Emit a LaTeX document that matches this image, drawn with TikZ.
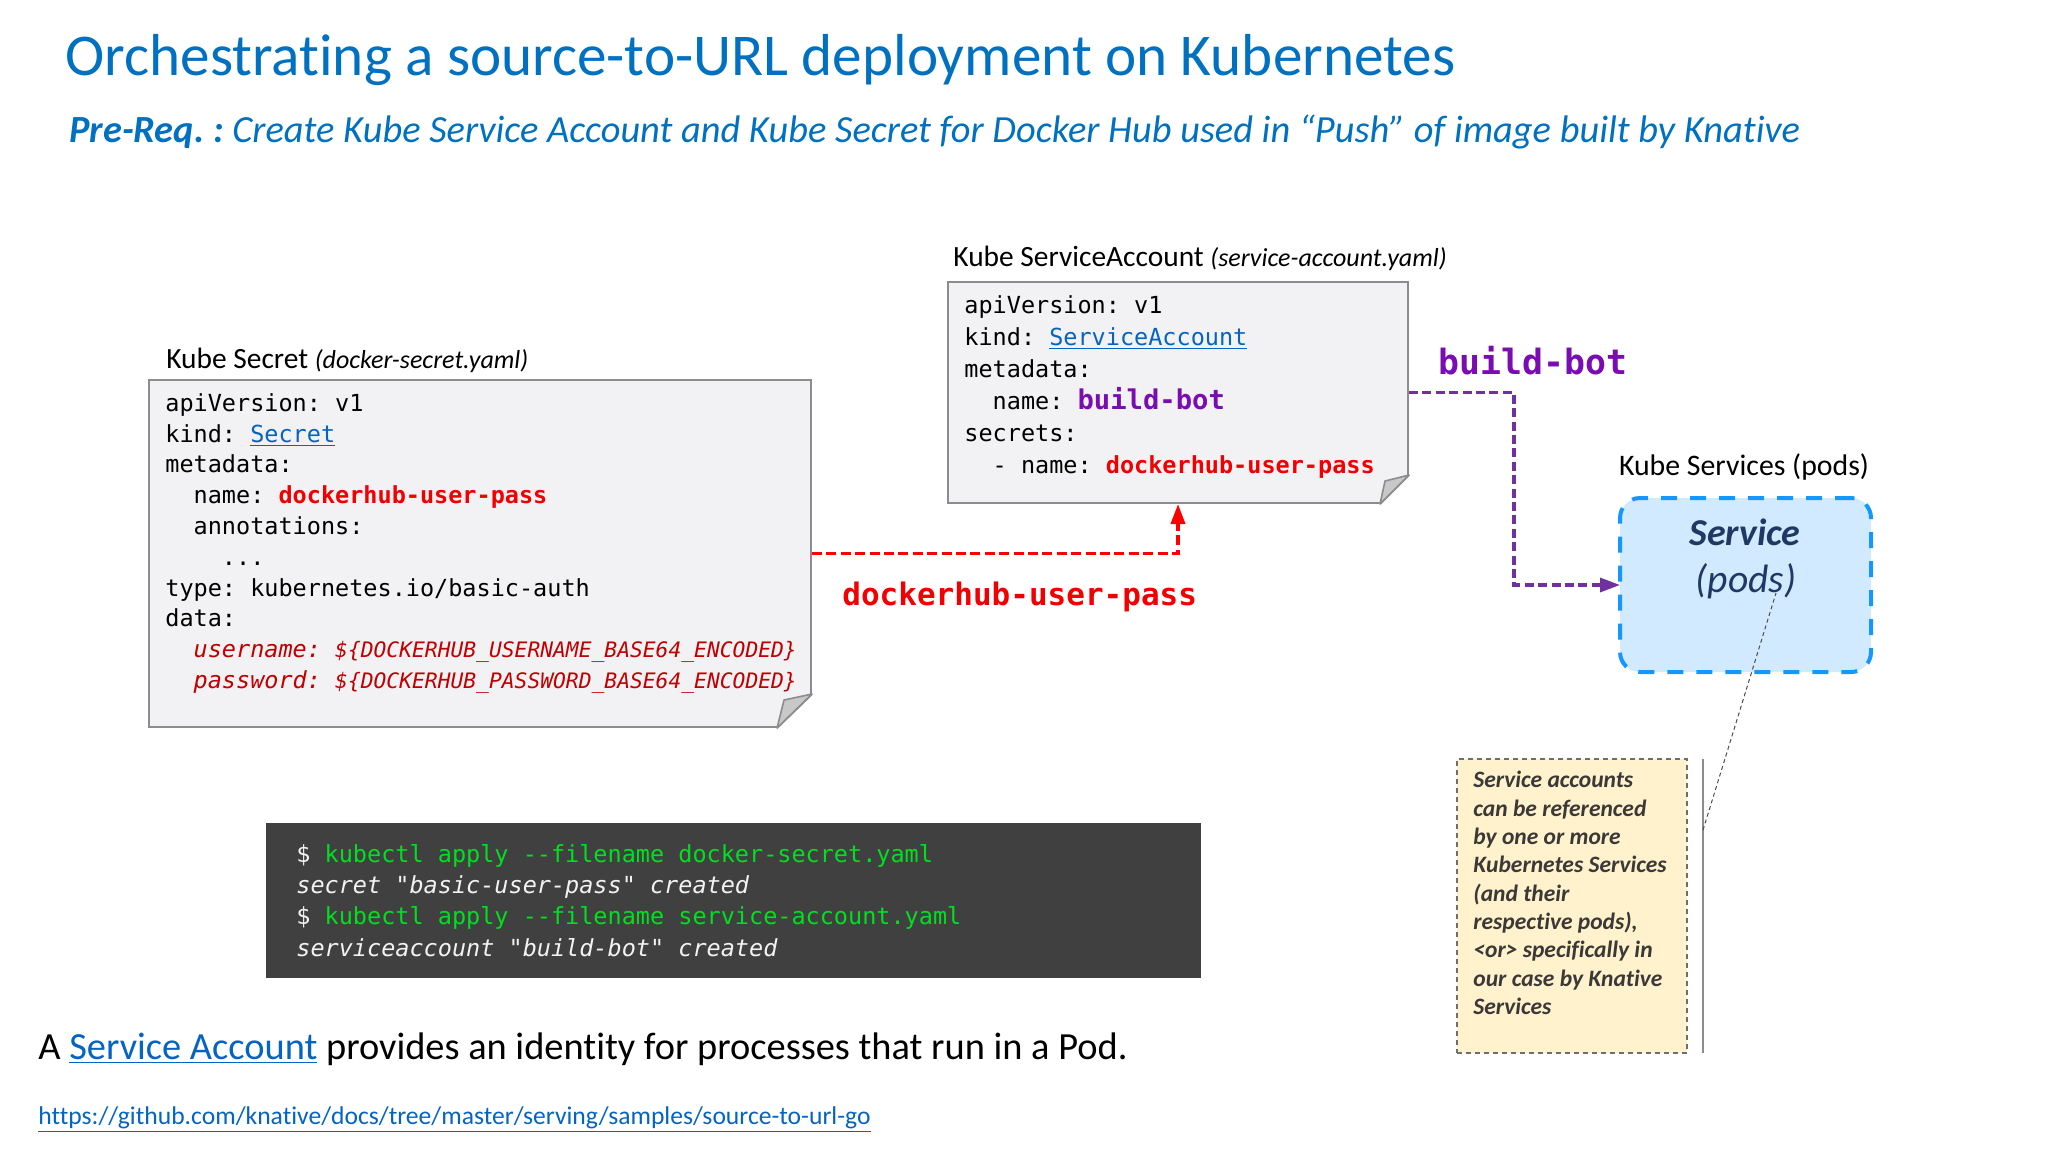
\documentclass[tikz,border=0pt]{standalone}
\usepackage{fontspec}
\setmainfont[Ligatures=NoCommon]{Carlito}
\newfontfamily\codefont{DejaVu Sans Mono}
\usetikzlibrary{arrows.meta,calc}
\definecolor{titleblue}{HTML}{0070C0}
\definecolor{linkblue}{HTML}{0563C1}
\definecolor{docfill}{HTML}{F2F2F4}
\definecolor{docedge}{HTML}{8C8C8C}
\definecolor{foldfill}{HTML}{C8C8C8}
\definecolor{redkey}{HTML}{F00000}
\definecolor{reditalic}{HTML}{C00000}
\definecolor{purpkey}{HTML}{7A0DB0}
\definecolor{purpline}{HTML}{7030A0}
\definecolor{svcfill}{HTML}{D2EAFF}
\definecolor{svcedge}{HTML}{1498FF}
\definecolor{svctext}{HTML}{1F3864}
\definecolor{notefill}{HTML}{FFF2CC}
\definecolor{notetext}{HTML}{3B3838}
\definecolor{noteedge}{HTML}{6E6E6E}
\definecolor{termfill}{HTML}{404040}
\definecolor{termgreen}{HTML}{00E020}
\newcommand{\lnk}[1]{\textcolor{linkblue}{\underline{#1}}}
\newcommand{\rk}[1]{\textcolor{redkey}{\bfseries #1}}
\newcommand{\pk}[1]{\textcolor{purpkey}{\bfseries\fontsize{13.6}{16}\selectfont #1}}
\newcommand{\gk}[1]{\textcolor{termgreen}{#1}}
\newcommand{\envv}[1]{{\fontsize{10.65}{15.4}\selectfont #1}}
\tikzset{
  docbox/.style={draw=docedge,fill=docfill,line width=1pt,inner sep=0pt,rectangle},
  foldpart/.style={draw=docedge,fill=foldfill,line width=0.8pt,line join=round},
  codetext/.style={inner sep=0pt,anchor=north west,align=left,text=black},
  txt/.style={inner sep=0pt,text=black},
  redflow/.style={draw=red,line width=1.8pt,dash pattern=on 5pt off 2.2pt,-{Triangle[length=10pt,width=7pt,fill=red]}},
  purpflow/.style={draw=purpline,line width=1.6pt,dash pattern=on 4.5pt off 2.2pt,-{Triangle[length=10pt,width=7pt,fill=purpline]}},
}
\begin{document}
\frenchspacing
\begin{tikzpicture}[x=0.5pt,y=-0.5pt]
\useasboundingbox (0,0) rectangle (2048,1152);
% title
\node[txt,anchor=base west,text=titleblue,font=\fontsize{29.6}{32}\selectfont] (title) at (65,75) {Orchestrating a source-to-URL deployment on Kubernetes};
\node[txt,anchor=base west,text=titleblue,font=\fontsize{19.2}{22}\selectfont\itshape] (sub) at (69,142) {\textbf{Pre-Req. :} Create Kube Service Account and Kube Secret for Docker Hub used in “Push” of image built by Knative};
% secret doc
\node[docbox,minimum width=331pt,minimum height=173.5pt] (secret) at (480,553.5) {};
\fill[white] (secret.south east) ++(-35,0.8) -- ++(36,0) -- ++(0,-36) -- cycle;
\draw[docedge,line width=1pt] ($(secret.south east)+(-35,0)$) -- ($(secret.south east)+(0,-34)$);
\draw[foldpart] ($(secret.south east)+(0,-34)$) -- ($(secret.south east)+(-28,-28)$) -- ($(secret.south east)+(-35,0)$) -- cycle;
\node[txt,anchor=base west,font=\fontsize{14.7}{16}\selectfont] (secretlabel) at (166,368) {Kube Secret {\fontsize{13}{16}\selectfont\itshape (docker-secret.yaml)}};
\node[codetext,font=\codefont\fontsize{11.75}{15.4}\selectfont] (secrettext) at (165,393) {apiVersion: v1\\
kind: \lnk{Secret}\\
metadata:\\
~~name: \rk{dockerhub-user-pass}\\
~~annotations:\\
~~~~...\\
type: kubernetes.io/basic-auth\\
data:\\
~~\textcolor{reditalic}{\itshape username: \envv{\$\{DOCKERHUB\_USERNAME\_BASE64\_ENCODED\}}}\\
~~\textcolor{reditalic}{\itshape password: \envv{\$\{DOCKERHUB\_PASSWORD\_BASE64\_ENCODED\}}}};
% service account doc
\node[docbox,minimum width=230pt,minimum height=110.5pt] (sa) at (1178,392.5) {};
\fill[white] (sa.south east) ++(-29,0.8) -- ++(30,0) -- ++(0,-30) -- cycle;
\draw[docedge,line width=1pt] ($(sa.south east)+(-29,0)$) -- ($(sa.south east)+(0,-29)$);
\draw[foldpart] ($(sa.south east)+(0,-29)$) -- ($(sa.south east)+(-24,-23)$) -- ($(sa.south east)+(-29,0)$) -- cycle;
\node[txt,anchor=base west,font=\fontsize{14.7}{16}\selectfont] (salabel) at (953,266) {Kube ServiceAccount {\fontsize{13}{16}\selectfont\itshape (service-account.yaml)}};
\node[codetext,font=\codefont\fontsize{11.75}{16}\selectfont] (satext) at (964,295.5) {apiVersion: v1\\
kind: \lnk{ServiceAccount}\\
metadata:\\
~~name: \pk{build-bot}\\
secrets:\\
~~- name: \rk{dockerhub-user-pass}};
% service
\node[rectangle,rounded corners=10pt,draw=svcedge,fill=svcfill,line width=2pt,outer sep=0pt,dash pattern=on 8pt off 6.5pt,minimum width=125.5pt,minimum height=87pt] (svc) at (1745.5,585) {};
\node[txt,anchor=base,font=\fontsize{14.9}{16}\selectfont] (svclabel) at (1744,475) {Kube Services (pods)};
\node[txt,anchor=base,text=svctext,font=\fontsize{19}{22}\selectfont\itshape\bfseries] (svcname) at (1745,545) {Service};
\node[txt,anchor=base,text=svctext,font=\fontsize{19.8}{22}\selectfont\itshape] (svcpods) at (1746,592) {(pods)};
% connector labels
\node[txt,anchor=base west,font=\codefont\bfseries\fontsize{17.4}{20}\selectfont,text=purpkey] (botlabel) at (1438,374) {build-bot};
\node[txt,anchor=base west,font=\codefont\bfseries\fontsize{15.5}{20}\selectfont,text=redkey] (passlabel) at (842,605) {dockerhub-user-pass};
% connectors
\draw[redflow] (secret.east) -| (sa.south);
\coordinate (purpbend) at (1514,392.5);
\draw[purpflow] (sa.east) -- (purpbend) |- (svc.west);
% note
\node[rectangle,draw=noteedge,fill=notefill,line width=0.6pt,dash pattern=on 2.5pt off 2pt,minimum width=115pt,minimum height=147pt] (note) at (1572,906) {};
\node[inner sep=0pt,anchor=north west,align=left,text=notetext,font=\fontsize{11.75}{14.15}\selectfont\itshape\bfseries] (notetext) at (1473,771) {Service accounts\\
can be referenced\\
by one or more\\
Kubernetes Services\\
(and their\\
respective pods),\\
<or> specifically in\\
our case by Knative\\
Services};
\coordinate (bartop) at (1703,759);
\coordinate (barbot) at (1703,1053);
\coordinate (calloutfoot) at (1703,830);
\coordinate (callouttip) at (1776,593);
\draw[docedge,line width=0.8pt] (bartop) -- (barbot);
\draw[black!70,line width=0.5pt,dash pattern=on 2pt off 1.5pt] (calloutfoot) -- (callouttip);
% terminal
\node[rectangle,fill=termfill,inner sep=0pt,minimum width=467.5pt,minimum height=77.5pt] (term) at (733.5,900.5) {};
\node[codetext,text=white!95!black,font=\codefont\fontsize{11.75}{15.6}\selectfont] (termtext) at (296,844) {\$ \gk{kubectl apply -{}-filename docker-secret.yaml}\\
{\itshape secret "basic-user-pass" created}\\
\$ \gk{kubectl apply -{}-filename service-account.yaml}\\
{\itshape serviceaccount "build-bot" created}};
% bottom
\node[txt,anchor=base west,font=\fontsize{19.2}{22}\selectfont] (sentence) at (38,1059) {A \lnk{Service Account} provides an identity for processes that run in a Pod.};
\node[txt,anchor=base west,font=\fontsize{12.8}{14}\selectfont] (url) at (38,1124) {\lnk{https://github.com/knative/docs/tree/master/serving/samples/source-to-url-go}};
\end{tikzpicture}
\end{document}
